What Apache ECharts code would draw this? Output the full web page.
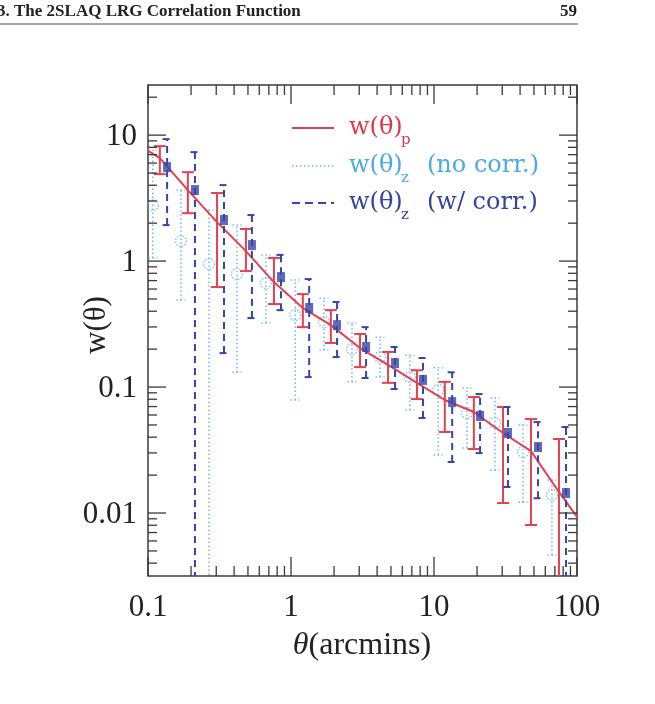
<!DOCTYPE html>
<html>
<head>
<meta charset="utf-8">
<script src="https://cdn.jsdelivr.net/npm/echarts@6/dist/echarts.min.js"></script>
<style>html,body{margin:0;background:#fff}#chart{width:655px;height:704px}</style>
</head>
<body>
<div id="chart"></div>
<script>
// w(theta)_p : projected
const thetaP = [0.121, 0.190, 0.304, 0.484, 0.760, 1.21, 1.90, 3.04, 4.77, 7.60, 11.9, 19.0, 30.4, 47.7, 74.8];
const wP     = [6.57, 3.66, 2.04, 1.20, 0.681, 0.424, 0.310, 0.204, 0.150, 0.108, 0.0789, 0.0634, 0.0432, 0.0310, 0.0147];
const wPHi   = [8.18, 5.08, 3.47, 1.80, 1.06, 0.547, 0.408, 0.264, 0.190, 0.136, 0.110, 0.0833, 0.0694, 0.0557, 0.0387];
const wPLo   = [4.90, 2.40, 0.622, 0.833, 0.456, 0.299, 0.224, 0.144, 0.108, 0.0803, 0.0440, 0.0322, 0.0120, 0.00803, 0.001];
// line runs on past the frame at both ends
const thetaPEdge = [0.076, 119];
const wPEdge     = [9.1, 0.0071];

// w(theta)_z, no correction
const thetaNC = [0.108, 0.170, 0.267, 0.419, 0.668, 1.07, 1.70, 2.67, 4.19, 6.79, 10.7, 17.0, 26.7, 41.9, 66.8];
const wNC     = [2.78, 1.44, 0.947, 0.789, 0.669, 0.373, 0.328, 0.200, 0.173, 0.120, 0.0947, 0.0622, 0.0518, 0.0305, 0.0139];
const wNCHi   = [7.60, 3.66, 2.54, 1.93, 1.12, 0.707, 0.508, 0.322, 0.249, 0.179, 0.142, 0.0982, 0.0818, 0.0499, 0.0183];
const wNCLo   = [1.06, 0.490, 0.001, 0.131, 0.322, 0.0789, 0.197, 0.110, 0.120, 0.0656, 0.0289, 0.0328, 0.0219, 0.0122, 0.00464];

// w(theta)_z, with correction
const thetaWC = [0.136, 0.213, 0.340, 0.533, 0.851, 1.34, 2.10, 3.35, 5.34, 8.38, 13.4, 21.0, 32.9, 53.4, 83.8];
const wWC     = [5.57, 3.66, 2.12, 1.34, 0.746, 0.424, 0.310, 0.208, 0.155, 0.114, 0.0760, 0.0589, 0.0432, 0.0334, 0.0144];
const wWCHi   = [9.30, 7.33, 4.01, 2.32, 1.12, 0.720, 0.473, 0.299, 0.208, 0.170, 0.131, 0.0880, 0.0694, 0.0527, 0.0482];
const wWCLo   = [1.93, 0.001, 0.186, 0.353, 0.408, 0.120, 0.173, 0.118, 0.0964, 0.0568, 0.0254, 0.0299, 0.0161, 0.0131, 0.001];

const xMin = 0.1, xMax = 100;
const yMin = 0.0031623, yMax = 25.0;
const xMajor = [0.1, 1, 10, 100];
const xLabels = ['0.1', '1', '10', '100'];
const yMajor = [0.01, 0.1, 1, 10];
const yLabels = ['0.01', '0.1', '1', '10'];

const red = '#e4404f';
const light = '#6dbde6';
const dark = '#3645a8';
const frame = '#3a3a3a';
const serif = '"Liberation Serif", "DejaVu Serif", serif';

function minorTicks(lo, hi) {
  const out = [];
  for (let d = -3; d <= 2; d++) {
    for (let k = 2; k <= 9; k++) {
      const v = k * Math.pow(10, d);
      if (v > lo && v < hi) out.push(v);
    }
  }
  return out;
}

const xTickData = xMajor.map((v, i) => [v, 1, 1, i]).concat(minorTicks(xMin, xMax).map(v => [v, 1, 0, -1]));
const yTickData = yMajor.map((v, i) => [1, v, 1, i]).concat(minorTicks(yMin, yMax).map(v => [1, v, 0, -1]));

function seg(x1, y1, x2, y2, style) {
  return { type: 'line', shape: { x1, y1, x2, y2 }, style };
}

function xTickRender(params, api) {
  const cs = params.coordSys;
  const major = api.value(2) === 1;
  const len = major ? 19 : 10;
  const x = api.coord([api.value(0), 1])[0];
  const st = { stroke: frame, lineWidth: 1.3 };
  const b = cs.y + cs.height, t = cs.y;
  const children = [seg(x, b, x, b - len, st), seg(x, t, x, t + len, st)];
  if (major) {
    children.push({ type: 'text', x: x, y: b + 32,
      style: { text: xLabels[api.value(3)], font: '31px ' + serif, fill: '#222', align: 'center', verticalAlign: 'middle' } });
  }
  return { type: 'group', children };
}

function yTickRender(params, api) {
  const cs = params.coordSys;
  const major = api.value(2) === 1;
  const len = major ? 18 : 9;
  const y = api.coord([1, api.value(1)])[1];
  const st = { stroke: frame, lineWidth: 1.3 };
  const l = cs.x, r = cs.x + cs.width;
  const children = [seg(l, y, l + len, y, st), seg(r, y, r - len, y, st)];
  if (major) {
    children.push({ type: 'text', x: l - 11, y: y + 2,
      style: { text: yLabels[api.value(3)], font: '31px ' + serif, fill: '#222', align: 'right', verticalAlign: 'middle' } });
  }
  return { type: 'group', children };
}

function errRender(color, dash, width, cap) {
  return function (params, api) {
    const x = api.value(0);
    const lo = api.coord([x, api.value(1)]);
    const hi = api.coord([x, api.value(2)]);
    const st = { stroke: color, lineWidth: width, lineDash: dash, fill: null };
    return { type: 'group', children: [
      seg(lo[0], lo[1], hi[0], hi[1], st),
      seg(lo[0] - cap / 2, lo[1], lo[0] + cap / 2, lo[1], st),
      seg(hi[0] - cap / 2, hi[1], hi[0] + cap / 2, hi[1], st)
    ] };
  };
}

const zip3 = (a, b, c) => a.map((v, i) => [v, b[i], c[i]]);
const zip2 = (a, b) => a.map((v, i) => [v, b[i]]);

const redLine = zip2([thetaPEdge[0]].concat(thetaP, [thetaPEdge[1]]), [wPEdge[0]].concat(wP, [wPEdge[1]]));

// legend, drawn as graphic
const legendFont = '24px "DejaVu Serif", serif';
const subFont = '15px "DejaVu Serif", serif';
const legendRows = [
  { y: 128, color: '#e0364a', sub: 'p', rest: '', stroke: red, dash: null, lw: 2 },
  { y: 166, color: '#4ea8e6', sub: 'z', rest: '(no corr.)', stroke: light, dash: [1.5, 2.5], lw: 1.5 },
  { y: 203, color: '#3444a0', sub: 'z', rest: '(w/ corr.)', stroke: dark, dash: [8, 5], lw: 2 }
];
const legendGraphic = [];
legendRows.forEach(r => {
  legendGraphic.push({ type: 'line', shape: { x1: 292, y1: r.y, x2: 334, y2: r.y },
    style: { stroke: r.stroke, lineWidth: r.lw, lineDash: r.dash } });
  legendGraphic.push({ type: 'text', x: 349, y: r.y,
    style: { text: 'w(θ)', font: legendFont, fill: r.color, verticalAlign: 'middle' } });
  legendGraphic.push({ type: 'text', x: 401, y: r.y + 12,
    style: { text: r.sub, font: subFont, fill: r.color, verticalAlign: 'middle' } });
  if (r.rest) {
    legendGraphic.push({ type: 'text', x: 427, y: r.y,
      style: { text: r.rest, font: legendFont, fill: r.color, verticalAlign: 'middle' } });
  }
});

const chart = echarts.init(document.getElementById('chart'));
chart.setOption({
  animation: false,
  backgroundColor: '#fff',
  grid: { left: 148, top: 85, width: 429, height: 491, show: true, borderColor: frame, borderWidth: 1.5, backgroundColor: 'transparent' },
  xAxis: { type: 'log', logBase: 10, min: xMin, max: xMax,
    axisLine: { show: false }, axisTick: { show: false }, axisLabel: { show: false }, splitLine: { show: false } },
  yAxis: { type: 'log', logBase: 10, min: yMin, max: yMax,
    axisLine: { show: false }, axisTick: { show: false }, axisLabel: { show: false }, splitLine: { show: false } },
  graphic: [
    { type: 'text', x: -3, y: 12, style: { text: '3. The 2SLAQ LRG Correlation Function', font: 'bold 17px ' + serif, fill: '#222', verticalAlign: 'middle' } },
    { type: 'text', x: 577, y: 12, style: { text: '59', font: 'bold 17px ' + serif, fill: '#222', align: 'right', verticalAlign: 'middle' } },
    { type: 'line', shape: { x1: 0, y1: 24, x2: 578, y2: 24 }, style: { stroke: '#555', lineWidth: 1 } },
    { type: 'text', x: 362, y: 646, style: { text: '{i|θ}(arcmins)', font: '32px ' + serif, fill: '#222', align: 'center', verticalAlign: 'middle',
      rich: { i: { font: 'italic 32px ' + serif, fill: '#222' } } } },
    { type: 'text', x: 97, y: 325, rotation: Math.PI / 2, style: { text: 'w(θ)', font: '31px ' + serif, fill: '#222', align: 'center', verticalAlign: 'middle' } }
  ].concat(legendGraphic),
  series: [
    { type: 'custom', name: 'ticksX', data: xTickData, renderItem: xTickRender, silent: true, z: 5 },
    { type: 'custom', name: 'ticksY', data: yTickData, renderItem: yTickRender, silent: true, z: 5 },
    { type: 'custom', name: 'errNC', data: zip3(thetaNC, wNCLo, wNCHi), renderItem: errRender(light, [1.5, 2.5], 1.5, 9), clip: true, z: 1 },
    { type: 'scatter', name: 'nc', data: zip2(thetaNC, wNC), symbol: 'circle', symbolSize: 11,
      itemStyle: { color: 'transparent', borderColor: light, borderWidth: 1.5, borderType: 'dotted' }, z: 1 },
    { type: 'custom', name: 'errP', data: zip3(thetaP, wPLo, wPHi), renderItem: errRender(red, null, 2, 12), clip: true, z: 2 },
    { type: 'line', name: 'p', data: redLine, symbol: 'none', lineStyle: { color: red, width: 2 }, clip: true, z: 2 },
    { type: 'custom', name: 'errWC', data: zip3(thetaWC, wWCLo, wWCHi), renderItem: errRender(dark, [7, 5], 2, 9), clip: true, z: 3 },
    { type: 'scatter', name: 'wc', data: zip2(thetaWC, wWC), symbol: 'rect', symbolSize: [8, 10],
      itemStyle: { color: dark }, z: 4 }
  ]
});
</script>
</body>
</html>
